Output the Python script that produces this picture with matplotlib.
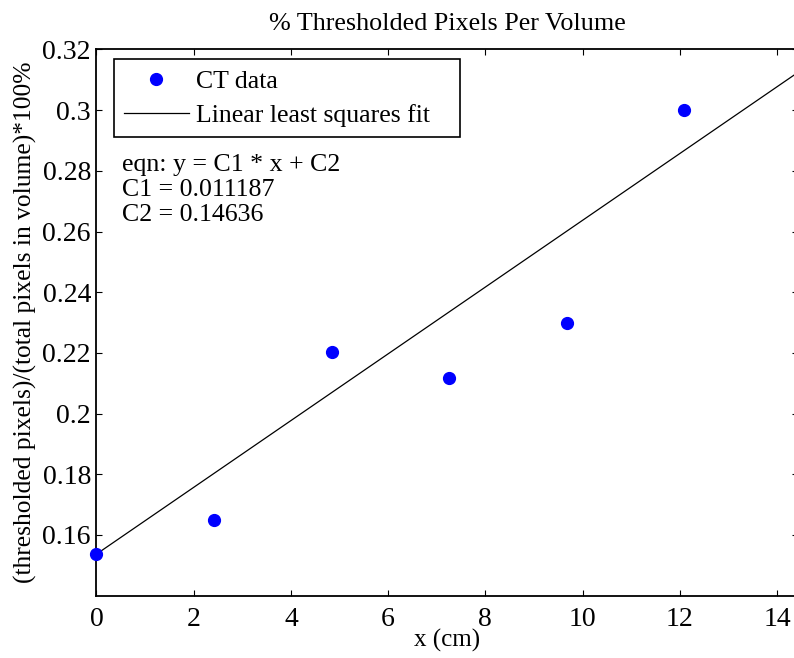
import matplotlib
matplotlib.use("Agg")
import matplotlib.pyplot as plt
import numpy as np

# CT data
x_cm = [0.0, 2.42, 4.84, 7.25, 9.68, 12.09]
pct_pixels = [0.1537, 0.1648, 0.2202, 0.2119, 0.2300, 0.2999]

# fitted line as drawn (intercept / slope)
fit_intercept = 0.1537
fit_slope = 0.01100
fit_xrange = [0.0, 14.6]

eqn_lines = ["eqn: y = C1 * x + C2", "C1 = 0.011187", "C2 = 0.14636"]
yticks = [0.16, 0.18, 0.2, 0.22, 0.24, 0.26, 0.28, 0.3, 0.32]
xticks = [0, 2, 4, 6, 8, 10, 12, 14]

serif = ["Liberation Serif", "DejaVu Serif"]
plt.rcParams["font.family"] = serif

fig = plt.figure(figsize=(7.94, 6.58), dpi=100)
# axes box runs slightly past the right edge, like the reference
ax = fig.add_axes([0.1215, 0.0947, 0.884, 0.8301])

fx = np.array(fit_xrange)
ax.plot(fx, fit_intercept + fit_slope * fx, color="black", lw=0.9,
        label="Linear least squares fit", zorder=2)
ax.plot(x_cm, pct_pixels, "o", color="#0000ff", ms=8.5, mec="#0000ff",
        label="CT data", linestyle="none", zorder=3, clip_on=False)

ax.set_xlim(0, 14.44)
ax.set_ylim(0.14, 0.32)
ax.set_xticks(xticks)
ax.set_xticklabels([str(v) for v in xticks], family=serif)
ax.set_yticks(yticks)
ax.set_yticklabels([f"{v:g}" for v in yticks], family=serif)
ax.tick_params(direction="in", length=4.5, width=0.8, labelsize=20,
               top=True, right=True)
ax.xaxis.set_tick_params(pad=8)
ax.yaxis.set_tick_params(pad=4)
for s in ax.spines.values():
    s.set_linewidth(1.3)

ax.set_title("% Thresholded Pixels Per Volume", fontsize=18.8, pad=14)
ax.set_xlabel("x (cm)", fontsize=18, labelpad=-2)
ax.set_ylabel("(thresholded pixels)/(total pixels in volume)*100%", fontsize=18.4,
              labelpad=4)

handles, labels = ax.get_legend_handles_labels()
labels = [l + "   " if l.startswith("Linear") else l for l in labels]
leg = ax.legend(handles[::-1], labels[::-1], loc="upper left",
                bbox_to_anchor=(0.025, 0.982), fontsize=18.5, frameon=True,
                fancybox=False, edgecolor="black", framealpha=1,
                borderpad=0.4, handlelength=2.5, handletextpad=0.3,
                labelspacing=0.45, borderaxespad=0)
leg.get_frame().set_linewidth(1.2)

ax.text(0.037, 0.809, "\n".join(eqn_lines), transform=ax.transAxes,
        fontsize=18.6, va="top", ha="left", linespacing=1.19)

fig.savefig("out.png", dpi=100)
